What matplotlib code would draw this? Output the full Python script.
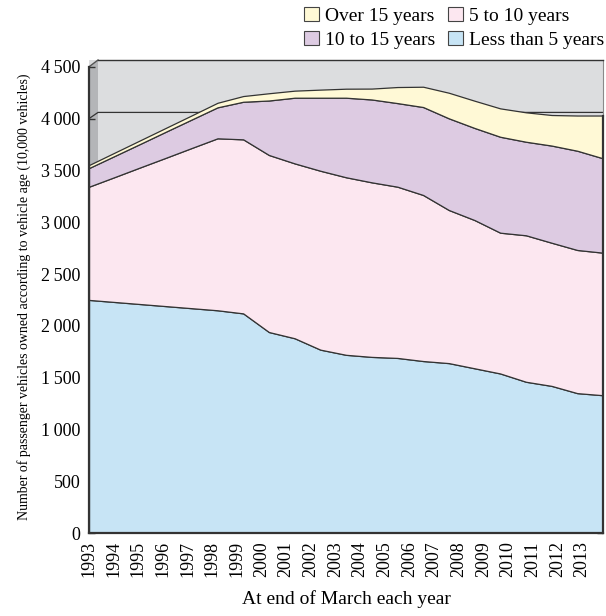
import matplotlib
matplotlib.use("Agg")
import matplotlib.pyplot as plt
from matplotlib.patches import Polygon, Patch
from matplotlib.ticker import FuncFormatter

# ---------------- data (10,000 vehicles) ----------------
years = list(range(1993, 2014))
less_than_5 = [2250, 2230, 2210, 2190, 2170, 2150, 2120, 1940, 1880, 1770, 1720,
               1700, 1690, 1660, 1640, 1590, 1540, 1460, 1420, 1350, 1330]
five_to_10 = [1093, 1206, 1320, 1433, 1547, 1660, 1680, 1709, 1688, 1727, 1714,
              1685, 1653, 1603, 1478, 1431, 1359, 1414, 1382, 1382, 1376]
ten_to_15 = [180, 204, 227, 252, 275, 299, 363, 526, 634, 705, 768,
             800, 807, 849, 885, 889, 926, 903, 938, 958, 911]
over_15 = [29, 32, 35, 37, 40, 44, 55, 70, 68, 78, 87,
           105, 155, 196, 247, 263, 274, 284, 295, 340, 413]

series_labels = ["Less than 5 years", "5 to 10 years", "10 to 15 years", "Over 15 years"]
y_ticks = [0, 500, 1000, 1500, 2000, 2500, 3000, 3500, 4000, 4500]
x_label = "At end of March each year"
y_label = "Number of passenger vehicles owned according to vehicle age (10,000 vehicles)"

# ---------------- style ----------------
plt.rcParams["font.family"] = ["Liberation Serif", "DejaVu Serif"]
colors = ["#C7E4F5", "#FCE7F0", "#DDCBE2", "#FFF9D6"]
edge = "#333333"
wall = "#DCDDDF"
side_wall = "#B4B5B8"

W, H = 606, 616
fig = plt.figure(figsize=(W / 100, H / 100), dpi=100)
ax = fig.add_axes([89 / W, 1 - 533 / H, (603 - 89) / W, (533 - 60) / H])
ax.set_facecolor(wall)
ymax = 4566
ax.set_xlim(years[0], years[-1])
ax.set_ylim(0, ymax)

depth = 9 / 514  # pseudo-3D depth in axes fraction
# left side wall
ax.add_patch(Polygon([(0, 0), (0, 4500 / ymax), (depth, 1), (depth, 0)],
                     closed=True, transform=ax.transAxes, facecolor=side_wall,
                     edgecolor="none", zorder=0.5))
ax.plot([0, depth], [4500 / ymax, 1], transform=ax.transAxes, color="#555555",
        lw=1.0, zorder=0.6, clip_on=False)
# 4000 gridline on walls
g_back = (4000 + 60) / ymax
ax.plot([0, depth, 1], [4000 / ymax, g_back, g_back], transform=ax.transAxes,
        color="#333333", lw=0.9, zorder=0.7)

ax.stackplot(years, less_than_5, five_to_10, ten_to_15, over_15,
             colors=colors, edgecolor=edge, linewidth=0.9, zorder=2)

total_last = less_than_5[-1] + five_to_10[-1] + ten_to_15[-1] + over_15[-1]

# spines
for s in ["left", "bottom", "right", "top"]:
    ax.spines[s].set_color(edge)
ax.spines["left"].set_linewidth(1.6)
ax.spines["bottom"].set_linewidth(1.6)
ax.spines["right"].set_linewidth(1.6)
ax.spines["top"].set_linewidth(1.0)
ax.spines["left"].set_bounds(0, 4500)
ax.spines["top"].set_bounds(years[0] + depth * (years[-1] - years[0]), years[-1])
ax.spines["right"].set_bounds(0, total_last)
ax.plot([years[-1], years[-1]], [total_last, ymax], color="#8a8a8a", lw=0.8,
        zorder=3, clip_on=False)
for s in ax.spines.values():
    s.set_zorder(4)

# ticks (the reference's year ticks are spaced slightly tighter than its data)
ax.set_yticks(y_ticks)
ax.yaxis.set_major_formatter(FuncFormatter(lambda v, p: f"{int(v):,}".replace(",", "\u2009")))
tick_step = (582 - 89) / (603 - 89) * (years[-1] - years[0]) / (len(years) - 1)
xt = [years[0] + i * tick_step for i in range(len(years))]
ax.set_xticks(xt)
ax.set_xticklabels([str(y) for y in years], rotation=90)
ax.tick_params(axis="y", direction="in", length=4, width=1.0, color=edge,
               labelsize=13, left=True, right=True, labelright=False, pad=6)
ax.tick_params(axis="x", direction="in", length=4, width=1.0, color=edge,
               labelsize=13, top=False, pad=6)
ax.yaxis.get_major_ticks()[-1].tick2line.set_visible(False)

ax.set_xlabel(x_label, fontsize=14, labelpad=9)
ax.set_ylabel(y_label, fontsize=10, labelpad=7)

handles = [Patch(facecolor=colors[3], edgecolor="#444444", lw=0.8),
           Patch(facecolor=colors[2], edgecolor="#444444", lw=0.8),
           Patch(facecolor=colors[1], edgecolor="#444444", lw=0.8),
           Patch(facecolor=colors[0], edgecolor="#444444", lw=0.8)]
labels = [series_labels[3], series_labels[2], series_labels[1], series_labels[0]]
fig.legend(handles, labels, ncol=2, loc="upper right",
           bbox_to_anchor=(1.0, 1 - 5 / H),
           frameon=False, fontsize=14, handlelength=0.75, handleheight=0.75,
           handletextpad=0.3, columnspacing=0.7, labelspacing=0.3,
           borderaxespad=0.0, borderpad=0.1)

fig.savefig("out.png", dpi=100)
